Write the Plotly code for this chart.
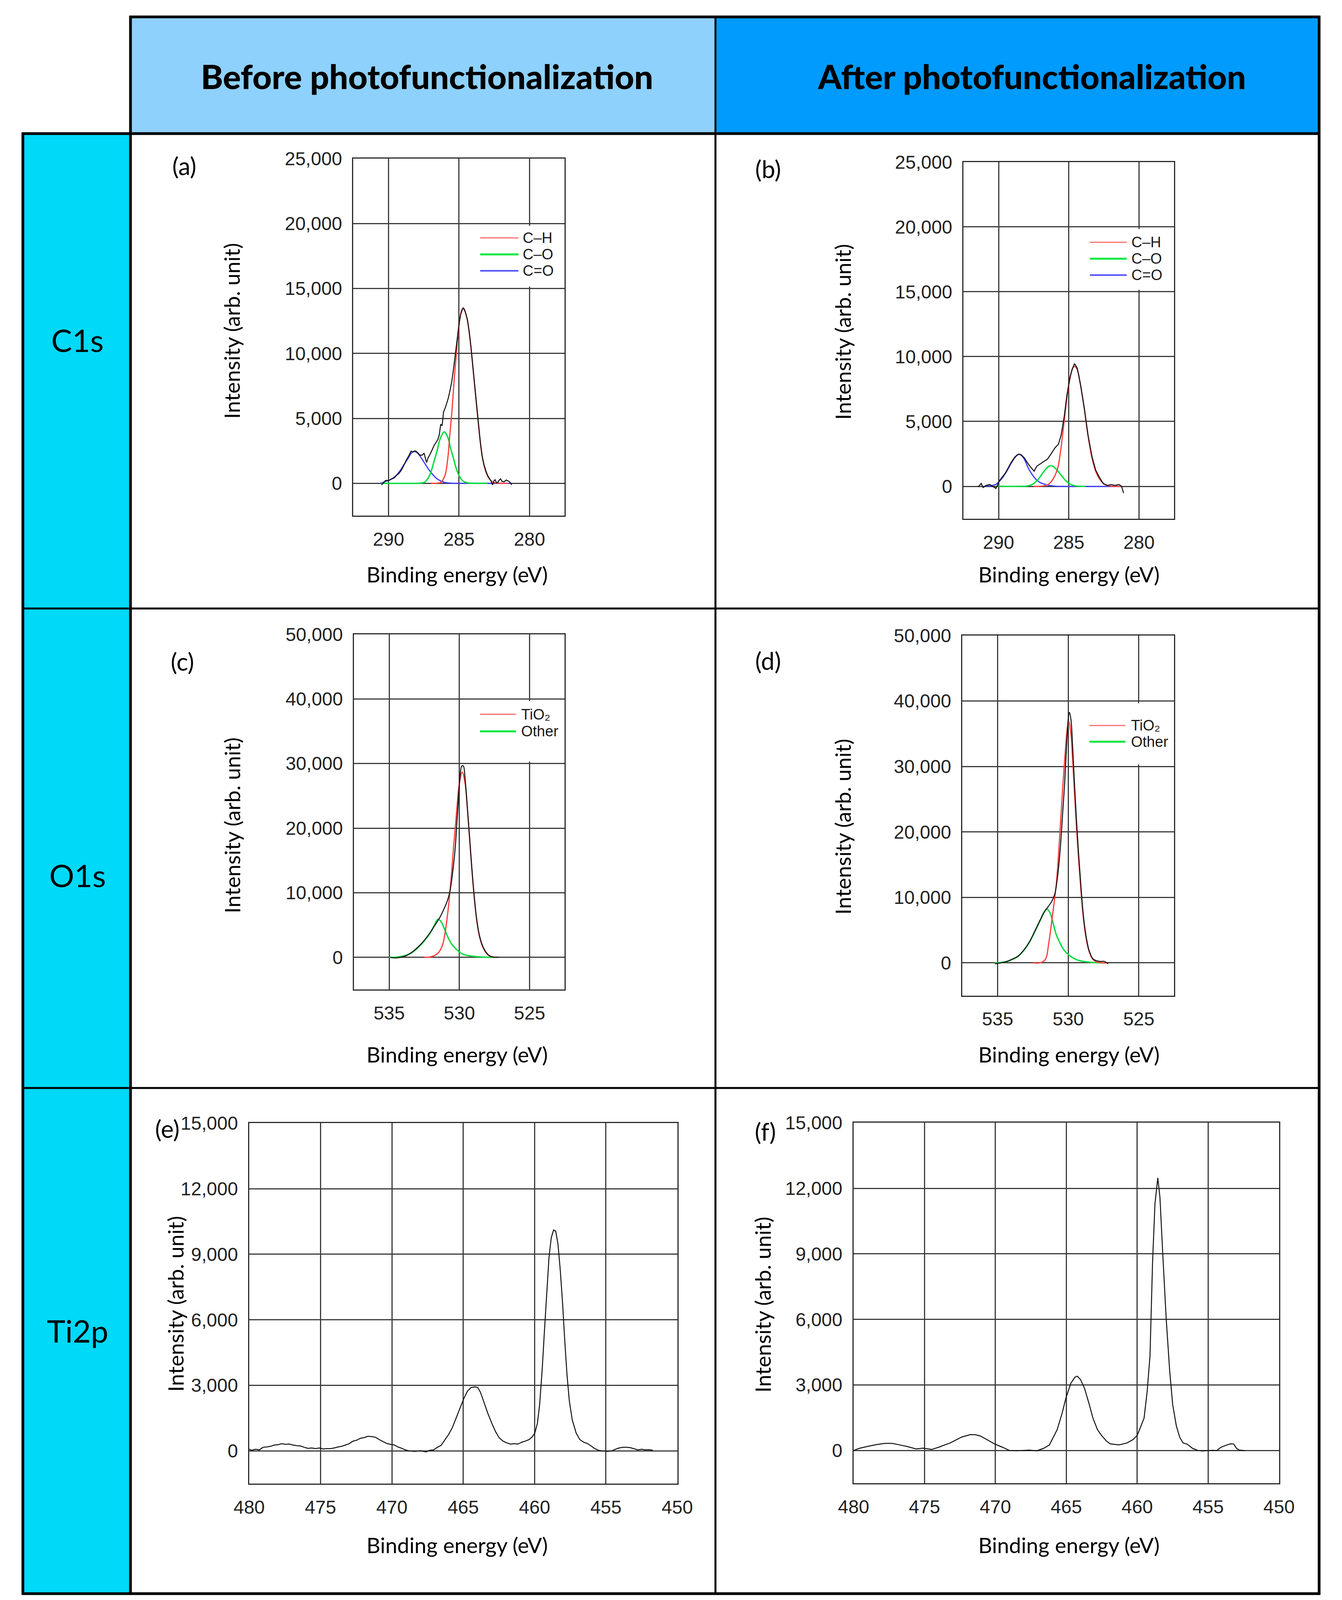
import plotly.graph_objects as go

# ---------------- DATA ----------------
# (a) C1s before
a_meas_x = [290.5, 290.35, 290.2, 290.0, 289.8, 289.6, 289.45, 289.3, 289.13, 288.95, 288.74, 288.55, 288.4, 288.25, 288.14, 288.0,
            287.87, 287.75, 287.6, 287.48, 287.38, 287.3, 287.2, 287.03, 286.9, 286.77, 286.63, 286.5, 286.4, 286.3, 286.2, 286.1,
            285.95, 285.77, 285.63, 285.5, 285.38, 285.25, 285.12, 284.99, 284.88, 284.78, 284.7, 284.62, 284.5, 284.4, 284.28,
            284.15, 284.02, 283.88, 283.75, 283.62, 283.5, 283.36, 283.23, 283.1, 282.97, 282.83, 282.72, 282.62, 282.52, 282.44,
            282.35, 282.26, 282.15, 282.05, 281.95, 281.8, 281.65, 281.52, 281.4, 281.26]
a_meas_y = [-120, 60, 230, 200, 330, 420, 600, 720, 950, 1300, 1800, 2150, 2480, 2420, 2500, 2430,
            2300, 2150, 2180, 2330, 1900, 1600, 1950, 2290, 2600, 2920, 3150, 3380, 3750, 4550, 4430, 5480,
            5900, 6530, 7200, 7930, 8900, 10030, 11200, 12360, 13000, 13340, 13500, 13410, 13000, 12590, 11700,
            10490, 9000, 7460, 6000, 4550, 3300, 2100, 1450, 980, 600, 350, 150, -120, 200, 280,
            60, 50, 250, 350, 150, 120, 250, 190, 100, -120]
a_ch_x = [287.0, 286.5, 286.3, 286.0, 285.8, 285.67, 285.5, 285.33, 285.15, 285.0, 284.85, 284.72, 284.6, 284.4, 284.15,
          283.88, 283.62, 283.36, 283.1, 282.83, 282.6, 282.3, 282.0, 281.5]
a_ch_y = [0, 20, 60, 600, 1900, 3500, 5600, 8160, 10500, 12200, 13200, 13480, 13300, 12500, 10400,
          7400, 4500, 2100, 900, 320, 100, 20, 0, 0]
a_co_x = [290.5, 288.0, 287.6, 287.4, 287.2, 287.0, 286.8, 286.56, 286.3, 286.04, 285.8, 285.6, 285.4, 285.2, 285.0,
          284.8, 284.6, 284.3, 284.0, 283.0]
a_co_y = [0, 0, 30, 120, 380, 850, 1600, 2500, 3550, 3960, 3550, 2700, 1950, 1150, 600,
          260, 100, 20, 0, 0]
a_cdo_x = [290.6, 290.2, 289.8, 289.5, 289.2, 288.9, 288.6, 288.4, 288.2, 288.0, 287.8, 287.5, 287.2, 287.0, 286.7,
           286.5, 286.2, 285.9, 285.5, 285.0, 281.3]
a_cdo_y = [0, 150, 330, 560, 950, 1450, 1950, 2300, 2450, 2380, 2150, 1650, 1150, 850, 480,
           300, 130, 50, 10, 0, 0]

# (b) C1s after
b_meas_x = [291.46, 291.24, 291.1, 290.9, 290.63, 290.36, 290.19, 289.95, 289.75, 289.53, 289.3, 289.12, 288.85, 288.7, 288.57,
            288.38, 288.16, 287.88, 287.66, 287.47, 287.28, 287.06, 286.79, 286.51, 286.24, 285.96, 285.74, 285.55, 285.33,
            285.14, 284.92, 284.73, 284.59, 284.4, 284.18, 283.9, 283.63, 283.35, 283.08, 282.8, 282.53, 282.25, 281.98,
            281.7, 281.43, 281.24, 281.1]
b_meas_y = [-50, 230, -90, 70, 140, -50, -160, 420, 700, 1010, 1450, 1830, 2250, 2400, 2490,
            2420, 2180, 1710, 1410, 1170, 1550, 1710, 1880, 2110, 2540, 3000, 3240, 3940, 5350,
            7000, 8400, 9110, 9460, 9110, 7930, 6060, 3940, 2300, 1240, 660, 190, 70, 140,
            70, 140, 0, -520]
b_ch_x = [287.5, 286.8, 286.4, 286.1, 285.8, 285.6, 285.47, 285.3, 285.1, 284.9, 284.73, 284.59, 284.4, 284.18, 283.9,
          283.63, 283.35, 283.08, 282.8, 282.5, 282.2, 281.8, 281.3]
b_ch_y = [0, 30, 200, 600, 1360, 2600, 3700, 5300, 7100, 8400, 9100, 9250, 9000, 7900, 6000,
          3900, 2200, 1150, 550, 200, 50, 0, 0]
b_co_x = [290.0, 288.5, 288.0, 287.6, 287.3, 287.0, 286.7, 286.45, 286.29, 286.1, 285.8, 285.5, 285.2, 284.9, 284.6,
          284.2, 283.8]
b_co_y = [0, 0, 20, 150, 400, 800, 1250, 1530, 1600, 1520, 1200, 800, 420, 170, 50,
          0, 0]
b_cdo_x = [291.0, 290.6, 290.2, 289.95, 289.7, 289.4, 289.12, 288.85, 288.65, 288.52, 288.3, 288.1, 287.88, 287.6, 287.34,
           287.0, 286.79, 286.5, 286.0, 285.5, 281.5]
b_cdo_y = [0, 40, 150, 380, 700, 1200, 1750, 2200, 2420, 2460, 2300, 1950, 1400, 900, 540,
           270, 190, 90, 20, 0, 0]

# (c) O1s before
c_meas_x = [534.92, 534.52, 534.12, 533.72, 533.32, 532.92, 532.52, 532.12, 531.72, 531.37, 531.11, 530.84, 530.65, 530.47,
            530.31, 530.15, 529.99, 529.83, 529.72, 529.59, 529.45, 529.29, 529.13, 528.97, 528.79, 528.6, 528.39, 528.12,
            527.85, 527.59, 527.19]
c_meas_y = [0, -90, 50, 330, 900, 1650, 2590, 3730, 5050, 6270, 7450, 8870, 10520, 13350,
            16650, 21840, 27030, 29620, 29620, 27500, 23730, 19010, 14290, 10050, 6270, 3680, 2030, 850,
            240, 50, 50]
c_tio2_x = [532.5, 532.1, 531.8, 531.5, 531.19, 530.84, 530.6, 530.4, 530.2, 530.0, 529.8, 529.6, 529.45, 529.29, 529.13,
            528.97, 528.79, 528.6, 528.39, 528.12, 527.85, 527.5, 527.2]
c_tio2_y = [0, 50, 250, 700, 2000, 6700, 12000, 17500, 22500, 27000, 28680, 27000, 23500, 18800, 14100,
            9900, 6100, 3500, 1900, 750, 200, 30, 0]
c_other_x = [535.0, 534.5, 534.1, 533.7, 533.3, 532.9, 532.5, 532.1, 531.8, 531.53, 531.3, 531.05, 530.79, 530.5, 530.25,
             530.0, 529.72, 529.3, 528.92, 528.4, 527.8, 527.3]
c_other_y = [0, 40, 150, 400, 850, 1600, 2550, 3700, 4900, 5900, 5500, 4300, 2970, 1900, 1320,
             800, 470, 250, 140, 50, 0, 0]

# (d) O1s after
d_meas_x = [535.19, 534.78, 534.38, 533.97, 533.56, 533.15, 532.74, 532.34, 531.98, 531.66, 531.39, 531.17, 530.95, 530.76,
            530.57, 530.41, 530.24, 530.11, 530.0, 529.92, 529.81, 529.7, 529.57, 529.43, 529.27, 529.1, 528.94, 528.75,
            528.53, 528.26, 527.99, 527.72, 527.45, 527.17]
d_meas_y = [-140, 0, 190, 560, 1020, 1950, 3250, 4970, 6590, 7890, 8680, 9380, 10540, 13090,
            17270, 22380, 27950, 33520, 37230, 38250, 37230, 33520, 27950, 22380, 16810, 11700, 7520, 4270,
            1950, 650, 320, 230, 230, -140]
d_tio2_x = [532.5, 531.93, 531.6, 531.39, 531.1, 530.84, 530.6, 530.4, 530.2, 530.05, 529.95, 529.81, 529.7, 529.57, 529.43,
            529.27, 529.1, 528.94, 528.75, 528.53, 528.26, 528.0, 527.5, 527.2]
d_tio2_y = [0, 50, 600, 2880, 7500, 12160, 19500, 26500, 32500, 36000, 36770, 35000, 31500, 26500, 21200,
            16000, 11100, 7100, 4000, 1800, 550, 150, 20, 0]
d_other_x = [535.2, 534.78, 534.38, 533.97, 533.56, 533.15, 532.74, 532.34, 531.98, 531.75, 531.52, 531.3, 531.1, 530.84,
             530.55, 530.3, 529.9, 529.48, 529.0, 528.4, 527.8, 527.3]
d_other_y = [0, 50, 190, 520, 1000, 1900, 3200, 4900, 6500, 7600, 8220, 7700, 6300, 4270,
             2900, 1950, 1100, 560, 250, 90, 20, 0]

# (e) Ti2p before
e_meas_x = [480.0, 479.82, 479.55, 479.29, 479.03, 478.77, 478.5, 478.24, 477.98, 477.71, 477.45, 477.19, 476.93, 476.66,
            476.4, 476.14, 475.88, 475.61, 475.35, 475.09, 474.83, 474.56, 474.3, 474.04, 473.77, 473.51, 473.25, 472.99,
            472.72, 472.46, 472.2, 471.94, 471.67, 471.41, 471.15, 470.89, 470.62, 470.36, 470.1, 469.83, 469.57, 469.31,
            469.05, 468.78, 468.4, 468.0, 467.6, 467.34, 467.08, 466.81, 466.55, 466.29, 466.03, 465.76, 465.5, 465.24,
            464.97, 464.71, 464.45, 464.19, 463.98, 463.79, 463.53, 463.27, 463.0, 462.74, 462.48, 462.22, 461.95, 461.69,
            461.43, 461.17, 460.9, 460.64, 460.38, 460.17, 459.98, 459.8, 459.64, 459.46, 459.3, 459.14, 458.99, 458.83,
            458.67, 458.52, 458.36, 458.2, 458.04, 457.88, 457.73, 457.57, 457.36, 457.09, 456.83, 456.57, 456.31, 456.04,
            455.78, 455.52, 455.26, 454.9, 454.6, 454.34, 454.07, 453.81, 453.55, 453.29, 453.02, 452.76, 452.5, 452.24,
            452.01, 451.71]
e_meas_y = [75, 30, 75, 45, 165, 180, 210, 270, 285, 330, 300, 315, 270, 240,
            225, 165, 120, 135, 105, 135, 90, 105, 105, 135, 180, 210, 270, 330,
            450, 490, 580, 610, 670, 655, 625, 520, 430, 340, 300, 270, 180, 120,
            45, 0, -20, 10, -45, 30, 45, 165, 255, 490, 745, 1070, 1490, 1940,
            2380, 2730, 2900, 2930, 2900, 2680, 2190, 1710, 1270, 890, 600, 450, 370, 310,
            330, 310, 400, 450, 520, 640, 820, 1270, 2160, 3800, 5590, 7370, 8860, 9760,
            10110, 10060, 9460, 8270, 6780, 4990, 3500, 2310, 1420, 820, 520, 400, 340, 225,
            105, 30, 0, -20, 0, 75, 135, 165, 165, 150, 90, 45, 75, 45,
            60, 30]

# (f) Ti2p after
f_meas_x = [480.0, 479.6, 479.0, 478.4, 477.8, 477.3, 476.7, 476.2, 475.6, 475.1, 474.5, 474.0, 473.6, 473.2, 472.8,
            472.37, 471.76, 471.4, 471.04, 470.6, 470.08, 469.5, 469.0, 468.5, 468.0, 467.6, 467.1, 466.6, 466.2, 465.65,
            465.3, 465.03, 464.68, 464.4, 464.23, 464.0, 463.71, 463.4, 463.12, 462.8, 462.52, 462.2, 461.92, 461.3,
            460.73, 460.3, 460.0, 459.75, 459.52, 459.3, 459.1, 458.92, 458.75, 458.55, 458.4, 458.2, 457.96, 457.71,
            457.5, 457.24, 457.0, 456.76, 456.5, 456.1, 455.7, 455.4, 455.0, 454.7, 454.4, 454.1, 453.7, 453.4, 453.2,
            453.0, 452.8, 452.4]
f_meas_y = [0, 100, 190, 270, 330, 330, 250, 180, 75, 110, 50, 150, 250, 344, 480,
            620, 730, 720, 660, 500, 309, 150, 0, -10, 0, 20, -15, 100, 250, 950,
            1700, 2400, 3080, 3350, 3404, 3250, 2835, 2150, 1478, 950, 694, 450, 309, 258,
            344, 500, 694, 1100, 1478, 2700, 4330, 8600, 11300, 12480, 11600, 9000, 6050, 3630,
            2100, 1120, 600, 344, 300, 100, 0, -20, 0, 10, 0, 150, 250, 310, 300,
            100, 20, 0]

header_texts = ["Before photofunctionalization", "After photofunctionalization"]
row_texts = ["C1s", "O1s", "Ti2p"]
panel_texts = ["(a)", "(b)", "(c)", "(d)", "(e)", "(f)"]
c1s_names = ["C–H", "C–O", "C=O"]
o1s_names = ["TiO₂", "Other"]
x_title = "Binding energy (eV)"
y_title = "Intensity (arb. unit)"
c1s_xticks = [290, 285, 280]
o1s_xticks = [535, 530, 525]

# ---------------- LAYOUT HELPERS ----------------
# positions are measured in the reference frame (3435 x 4251) and placed as paper fractions,
# so the figure fills whatever viewport the page is shown in.
W, H = 3435, 4251


def fx(p):
    return p / W


def fy(p):
    return 1 - p / H


RED, GREEN, BLUE = "#FF3A3A", "#00DC3C", "#3C3CFF"
LRED, LGREEN, LBLUE = "#FF6E6E", "#00E63C", "#5050FF"
TITLE_FONT = "Lato, Open Sans, sans-serif"
TICK_FONT = "Liberation Sans, Arial, sans-serif"

# axes boxes in reference pixels: x0, x1, ytop, ybottom
boxes = [
    (885, 1439, 397, 1352),
    (2484, 3036, 406, 1360),
    (887, 1439, 1669, 2619),
    (2481, 3036, 1672, 2635),
    (612, 1734, 2976, 3940),
    (2196, 3311, 2975, 3939),
]

fig = go.Figure()


def ax_names(i):
    n = "" if i == 0 else str(i + 1)
    return "x" + n, "y" + n


def add_line(i, xs, ys, color, width, shape="linear"):
    xa, ya = ax_names(i)
    fig.add_trace(go.Scatter(x=xs, y=ys, mode="lines", xaxis=xa, yaxis=ya,
                             line=dict(color=color, width=width, shape=shape),
                             showlegend=False, hoverinfo="skip"))


# components then measured
add_line(0, a_cdo_x, a_cdo_y, BLUE, 3, "spline")
add_line(0, a_co_x, a_co_y, GREEN, 3.5, "spline")
add_line(0, a_ch_x, a_ch_y, RED, 3, "spline")
add_line(0, a_meas_x, a_meas_y, "#111111", 2.5)

add_line(1, b_cdo_x, b_cdo_y, BLUE, 3, "spline")
add_line(1, b_co_x, b_co_y, GREEN, 3.5, "spline")
add_line(1, b_ch_x, b_ch_y, RED, 3, "spline")
add_line(1, b_meas_x, b_meas_y, "#111111", 2.5)

add_line(2, c_other_x, c_other_y, GREEN, 3.5, "spline")
add_line(2, c_tio2_x, c_tio2_y, RED, 3, "spline")
add_line(2, c_meas_x, c_meas_y, "#111111", 2.5, "spline")

add_line(3, d_other_x, d_other_y, GREEN, 3.5, "spline")
add_line(3, d_tio2_x, d_tio2_y, RED, 3, "spline")
add_line(3, d_meas_x, d_meas_y, "#111111", 2.5, "spline")

add_line(4, e_meas_x, e_meas_y, "#111111", 2.5)
add_line(5, f_meas_x, f_meas_y, "#111111", 2.5)

common = dict(showline=True, mirror=True, linecolor="#2b2b2b", linewidth=3,
              showgrid=True, gridcolor="#3c3c3c", gridwidth=3, zeroline=False,
              ticks="", tickfont=dict(family=TICK_FONT, size=48, color="#222222"),
              fixedrange=True)

xranges = [[292.5, 277.5], [292.5, 277.5], [537.5, 522.5], [537.5, 522.5], [480, 450], [480, 450]]
yranges = [[-2500, 25000], [-2500, 25000], [-5000, 50000], [-5000, 50000], [-1500, 15000], [-1500, 15000]]
ydticks = [5000, 5000, 10000, 10000, 3000, 3000]
xtickv = [c1s_xticks, c1s_xticks, o1s_xticks, o1s_xticks, None, None]

layout = {}
for i, (x0, x1, yt, yb) in enumerate(boxes):
    xa, ya = ax_names(i)
    xkey = "xaxis" + ("" if i == 0 else str(i + 1))
    ykey = "yaxis" + ("" if i == 0 else str(i + 1))
    xd = dict(common, domain=[fx(x0), fx(x1)], range=xranges[i], anchor=ya,
              ticklabelstandoff=16)
    if xtickv[i] is not None:
        xd.update(tickmode="array", tickvals=xtickv[i])
    else:
        xd.update(tick0=450, dtick=5)
    yd = dict(common, domain=[fy(yb), fy(yt)], range=yranges[i], anchor=xa,
              tick0=0, dtick=ydticks[i], tickformat=",d", ticklabelstandoff=16)
    layout[xkey] = xd
    layout[ykey] = yd

shapes = []
annotations = []

# table fills
shapes.append(dict(type="rect", xref="paper", yref="paper", x0=fx(301), x1=fx(1834), y0=fy(330), y1=fy(18),
                   fillcolor="#8ED1FC", line=dict(width=0), layer="below"))
shapes.append(dict(type="rect", xref="paper", yref="paper", x0=fx(1834), x1=fx(3416), y0=fy(330), y1=fy(18),
                   fillcolor="#009BFC", line=dict(width=0), layer="below"))
shapes.append(dict(type="rect", xref="paper", yref="paper", x0=fx(19), x1=fx(301), y0=fy(4234), y1=fy(330),
                   fillcolor="#00D9F8", line=dict(width=0), layer="below"))


def hline(y, xa, xb, w):
    shapes.append(dict(type="line", xref="paper", yref="paper", x0=fx(xa), x1=fx(xb), y0=fy(y), y1=fy(y),
                       line=dict(color="#000000", width=w)))


def vline(x, ya, yb, w):
    shapes.append(dict(type="line", xref="paper", yref="paper", x0=fx(x), x1=fx(x), y0=fy(ya), y1=fy(yb),
                       line=dict(color="#000000", width=w)))


hline(18, 298, 3419, 7)
hline(330, 16, 3419, 7)
hline(1600, 16, 3419, 5)
hline(2882, 16, 3419, 5)
hline(4234, 16, 3419, 7)
vline(19, 327, 4237, 7)
vline(301, 15, 4237, 7)
vline(1834, 15, 4237, 5)
vline(3416, 15, 4237, 7)


def paper_text(text, xpx, ypx, size, family=TITLE_FONT, angle=0, weight="normal"):
    annotations.append(dict(text=text, x=fx(xpx), y=fy(ypx), xref="paper", yref="paper", showarrow=False,
                            xanchor="center", yanchor="middle", textangle=angle,
                            font=dict(family=family, size=size, color="#000000", weight=weight)))


# header texts
paper_text(header_texts[0], 1078, 176, 86, weight=900)
paper_text(header_texts[1], 2663, 176, 86, weight=900)
# row labels
for t, yy in zip(row_texts, [882, 2312, 3530]):
    paper_text(t, 162, yy, 80)

# panel labels
for t, (xx, yy) in zip(panel_texts, [(442, 416), (1972, 424), (437, 1741), (1972, 1739), (398, 2990), (1965, 2998)]):
    paper_text(t, xx, yy, 62)

# axis titles
ytitle_pos = [(567, 858), (2168, 861), (567, 2180), (2168, 2184), (418, 3459), (1957, 3461)]
xtitle_pos = [(1157, 1508), (2760, 1508), (1157, 2792), (2760, 2792), (1157, 4104), (2760, 4104)]
for (xx, yy) in ytitle_pos:
    paper_text(y_title, xx, yy, 55, angle=-90)
for (xx, yy) in xtitle_pos:
    paper_text(x_title, xx, yy, 55)

# manual legends (inside axes, in axis-domain coordinates)
legend_specs = [
    (0, c1s_names, [LRED, LGREEN, LBLUE], [0.778, 0.732, 0.686], 0.600, 0.781, 0.797),
    (1, c1s_names, [LRED, LGREEN, LBLUE], [0.775, 0.729, 0.683], 0.600, 0.775, 0.794),
    (2, o1s_names, [LRED, LGREEN], [0.775, 0.727], 0.598, 0.768, 0.790),
    (3, o1s_names, [LRED, LGREEN], [0.750, 0.705], 0.600, 0.770, 0.792),
]
lw = {LRED: 3, LGREEN: 5, LBLUE: 4}
for i, names, cols, ys, lx0, lx1, tx in legend_specs:
    xa, ya = ax_names(i)
    shapes.append(dict(type="rect", xref=xa + " domain", yref=ya + " domain", x0=0.58, x1=0.992,
                       y0=0.642, y1=0.812, fillcolor="#FFFFFF", line=dict(width=0), layer="above"))
    for nm, col, yv in zip(names, cols, ys):
        shapes.append(dict(type="line", xref=xa + " domain", yref=ya + " domain", x0=lx0, x1=lx1, y0=yv, y1=yv,
                           line=dict(color=col, width=lw[col]), layer="above"))
        annotations.append(dict(text=nm, x=tx, y=yv, xref=xa + " domain", yref=ya + " domain", xanchor="left",
                                yanchor="middle", showarrow=False,
                                font=dict(family=TICK_FONT, size=38, color="#1a1a1a")))

fig.update_layout(autosize=True, margin=dict(l=0, r=0, t=0, b=0, pad=0), paper_bgcolor="#FFFFFF",
                  plot_bgcolor="rgba(0,0,0,0)", shapes=shapes, annotations=annotations, showlegend=False,
                  **layout)

fig.write_html("out.html", config={"displayModeBar": False, "responsive": True},
               default_width="100vw", default_height="100vh",
               post_script="document.documentElement.style.margin='0px';document.body.style.margin='0px';"
                           "document.body.style.overflow='hidden';window.dispatchEvent(new Event('resize'));")
